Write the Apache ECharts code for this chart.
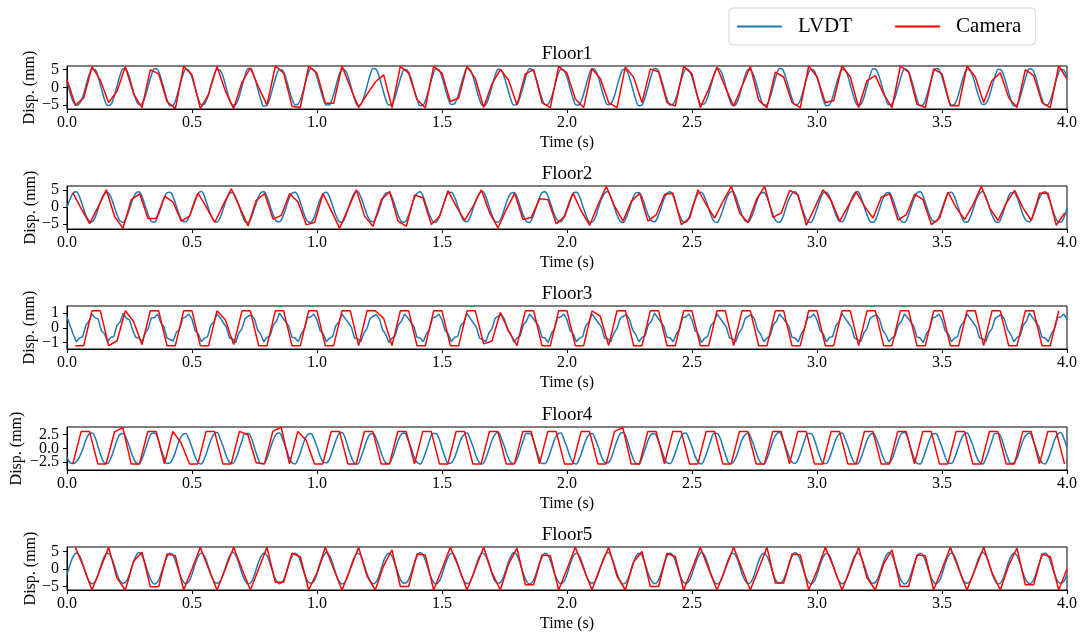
<!DOCTYPE html>
<html><head><meta charset="utf-8">
<script src="https://cdn.jsdelivr.net/npm/echarts@6.0.0/dist/echarts.min.js"></script>
<style>html,body{margin:0;padding:0;background:#fff}#c{width:1084px;height:637px}</style>
</head><body><div id="c"></div>
<script>
const floorNames = ['Floor1','Floor2','Floor3','Floor4','Floor5'];
const xTickLabels = ['0.0','0.5','1.0','1.5','2.0','2.5','3.0','3.5','4.0'];
const lvdtDt = 0.0125;      // LVDT sample spacing (s)
const camFps = 30;          // camera frame rate
const camStart = [0, 0.024, 0.0333, 0.0233, 0.0333];
const yTicks = [[-5,0,5],[-5,0,5],[-1,0,1],[-2.5,0,2.5],[-5,0,5]];
const yDec = [0,0,0,1,0];

const lvdt1 = [
1.8,-1.6,-4.1,-5.1,-4.6,-2.8,0.3,3.3,5.1,5.0,
2.9,-0.3,-3.4,-5.1,-4.9,-2.8,0.3,3.4,5.2,4.9,
2.8,-0.4,-3.3,-4.8,-4.6,-2.7,0.4,3.4,5.3,5.0,
2.7,-0.3,-3.4,-5.2,-5.0,-2.9,0.2,3.2,5.1,4.7,
2.8,-0.2,-3.2,-4.9,-4.7,-2.8,0.3,3.3,5.0,4.8,
2.9,-0.3,-3.3,-5.0,-4.8,-2.9,0.3,3.4,5.3,5.1,
2.8,-0.3,-3.4,-5.3,-5.0,-2.8,0.3,3.3,5.0,4.8,
2.7,-0.4,-3.3,-4.9,-4.7,-2.7,0.4,3.4,5.2,4.9,
2.8,-0.3,-3.2,-5.0,-4.9,-2.9,0.2,3.3,5.1,4.8,
2.9,-0.2,-3.3,-5.1,-4.8,-2.8,0.3,3.5,5.3,5.0,
2.7,-0.4,-3.4,-5.0,-4.7,-2.7,0.3,3.3,5.0,4.7,
2.8,-0.3,-3.3,-5.2,-5.0,-2.9,0.2,3.2,5.1,4.9,
2.9,-0.3,-3.2,-4.8,-4.6,-2.8,0.4,3.4,5.3,5.0,
2.8,-0.4,-3.4,-5.1,-4.9,-2.8,0.3,3.3,5.1,4.8,
2.7,-0.3,-3.3,-5.0,-4.8,-2.7,0.3,3.4,5.2,4.9,
2.8,-0.2,-3.2,-4.9,-4.7,-2.9,0.2,3.3,5.0,4.8,
2.8,-0.3,-3.3,-5.0,-4.8,-2.8,0.3,3.3,5.2,4.9,
2.9,-0.2,-3.2,-4.9,-4.7,-2.9,0.2,3.2,5.0,4.8,
2.7,-0.4,-3.4,-5.2,-5.0,-2.8,0.3,3.4,5.3,5.0,
2.8,-0.3,-3.3,-5.0,-4.7,-2.7,0.4,3.3,5.1,4.8,
2.9,-0.3,-3.2,-4.8,-4.6,-2.8,0.3,3.4,5.2,4.9,
2.8,-0.4,-3.4,-5.1,-4.9,-2.9,0.2,3.3,5.0,4.7,
2.7,-0.3,-3.3,-5.0,-4.8,-2.8,0.3,3.4,5.3,5.0,
2.8,-0.2,-3.2,-4.9,-4.7,-2.7,0.4,3.3,5.1,4.8,
2.9,-0.3,-3.4,-5.2,-5.0,-2.8,0.3,3.2,5.0,4.8,
2.8,-0.4,-3.3,-5.0,-4.8,-2.9,0.2,3.4,5.2,4.9,
2.7,-0.3,-3.2,-4.9,-4.7,-2.8,0.3,3.3,5.1,4.8,
2.8,-0.3,-3.4,-5.1,-4.9,-2.7,0.4,3.4,5.3,5.0,
2.9,-0.2,-3.3,-5.0,-4.8,-2.8,0.3,3.3,5.0,4.7,
2.8,-0.4,-3.2,-4.8,-4.6,-2.9,0.2,3.2,5.1,4.9,
2.7,-0.3,-3.4,-5.2,-5.0,-2.8,0.3,3.4,5.2,4.9,
2.8,-0.3,-3.3,-5.0,-4.8,-2.8,0.3,3.3,5.1,4.8,
3.0];

const lvdt2 = [
0.0,2.4,4.2,4.5,3.0,0.4,-2.3,-4.0,-4.3,-3.0,
-0.4,2.3,4.0,4.3,3.0,0.5,-2.2,-4.1,-4.5,-3.1,
-0.5,2.2,4.1,4.5,3.1,0.4,-2.3,-4.2,-4.4,-2.9,
-0.3,2.4,4.2,4.4,2.9,0.3,-2.4,-4.1,-4.3,-3.0,
-0.4,2.3,4.1,4.6,3.1,0.4,-2.3,-4.0,-4.4,-3.1,
-0.5,2.2,4.0,4.3,2.9,0.5,-2.2,-4.2,-4.5,-3.0,
-0.3,2.3,4.2,4.5,3.0,0.3,-2.3,-4.1,-4.3,-2.9,
-0.4,2.4,4.1,4.4,3.1,0.4,-2.4,-4.2,-4.4,-3.1,
-0.5,2.3,4.0,4.4,3.0,0.4,-2.3,-4.1,-4.5,-3.0,
-0.3,2.2,4.2,4.6,3.0,0.5,-2.2,-4.0,-4.3,-2.9,
-0.4,2.4,4.1,4.3,2.9,0.3,-2.4,-4.2,-4.4,-3.1,
-0.4,2.3,4.0,4.5,3.1,0.4,-2.3,-4.1,-4.5,-3.0,
-0.5,2.2,4.2,4.4,3.0,0.5,-2.2,-4.0,-4.3,-2.9,
-0.3,2.3,4.1,4.6,3.1,0.4,-2.3,-4.2,-4.4,-3.1,
-0.4,2.4,4.0,4.3,2.9,0.3,-2.4,-4.1,-4.5,-3.0,
-0.5,2.3,4.2,4.5,3.0,0.4,-2.3,-4.0,-4.3,-2.9,
-0.3,2.2,4.1,4.4,3.1,0.5,-2.2,-4.2,-4.4,-3.1,
-0.4,2.3,4.0,4.6,3.0,0.4,-2.3,-4.1,-4.5,-3.0,
-0.4,2.4,4.2,4.3,2.9,0.3,-2.4,-4.0,-4.3,-2.9,
-0.5,2.3,4.1,4.5,3.1,0.4,-2.3,-4.2,-4.4,-3.1,
-0.3,2.2,4.0,4.4,3.0,0.5,-2.2,-4.1,-4.5,-3.0,
-0.4,2.3,4.2,4.6,3.1,0.4,-2.3,-4.0,-4.3,-2.9,
-0.5,2.4,4.1,4.3,2.9,0.3,-2.4,-4.2,-4.4,-3.1,
-0.3,2.3,4.0,4.5,3.0,0.4,-2.3,-4.1,-4.5,-3.0,
-0.4,2.2,4.2,4.4,3.1,0.5,-2.2,-4.0,-4.3,-2.9,
-0.4,2.3,4.1,4.6,3.0,0.4,-2.3,-4.2,-4.4,-3.1,
-0.5,2.4,4.0,4.3,2.9,0.3,-2.4,-4.1,-4.5,-3.0,
-0.3,2.3,4.2,4.5,3.1,0.4,-2.3,-4.0,-4.3,-2.9,
-0.4,2.2,4.1,4.4,3.0,0.5,-2.2,-4.2,-4.4,-3.1,
-0.5,2.3,4.0,4.6,3.1,0.4,-2.3,-4.1,-4.5,-3.0,
-0.3,2.4,4.2,4.3,2.9,0.3,-2.4,-4.0,-4.3,-2.9,
-0.4,2.3,4.1,4.5,3.0,0.4,-2.3,-4.2,-4.4,-3.1,
-0.3];

const lvdt3 = [
0.75,0.15,-0.45,-0.95,-0.7,-0.6,0.15,0.45,0.95,0.7,
0.6,-0.2,-0.4,-0.95,-0.65,-0.6,0.2,0.4,1.0,0.65,
0.55,-0.15,-0.65,-0.7,-0.95,-0.35,-0.05,0.7,0.7,0.95,
0.35,0.1,-0.7,-0.8,-0.9,-0.3,-0.1,0.65,0.75,0.95,
0.6,-0.2,-0.4,-0.95,-0.7,-0.6,0.2,0.4,0.95,0.7,
0.35,0.05,-0.7,-0.75,-1.0,-0.35,-0.05,0.65,0.8,0.9,
0.6,-0.15,-0.45,-0.95,-0.65,-0.55,0.2,0.45,1.0,0.7,
0.4,0.1,-0.65,-0.7,-0.95,-0.4,-0.05,0.7,0.75,0.95,
0.55,-0.2,-0.4,-0.95,-0.7,-0.6,0.15,0.4,0.95,0.65,
0.35,0.05,-0.7,-0.75,-0.95,-0.35,-0.05,0.65,0.8,0.9,
0.6,-0.15,-0.45,-1.0,-0.7,-0.55,0.2,0.45,0.95,0.7,
0.4,0.1,-0.65,-0.7,-0.95,-0.4,-0.1,0.7,0.75,0.95,
0.55,-0.2,-0.4,-0.95,-0.65,-0.6,0.15,0.4,1.0,0.65,
0.35,0.05,-0.7,-0.8,-0.95,-0.35,-0.05,0.65,0.8,0.9,
0.6,-0.15,-0.45,-0.95,-0.7,-0.55,0.2,0.45,0.95,0.7,
0.4,0.1,-0.65,-0.7,-1.0,-0.4,-0.05,0.7,0.75,0.95,
0.55,-0.2,-0.4,-0.95,-0.7,-0.6,0.15,0.4,0.95,0.65,
0.35,0.05,-0.7,-0.75,-0.95,-0.35,-0.05,0.65,0.8,0.9,
0.6,-0.15,-0.45,-0.95,-0.65,-0.55,0.2,0.45,1.0,0.7,
0.4,0.1,-0.65,-0.7,-0.95,-0.4,-0.1,0.7,0.75,0.95,
0.55,-0.2,-0.4,-1.0,-0.7,-0.6,0.15,0.4,0.95,0.65,
0.35,0.05,-0.7,-0.75,-0.95,-0.35,-0.05,0.65,0.8,0.9,
0.6,-0.15,-0.45,-0.95,-0.7,-0.55,0.2,0.45,0.95,0.7,
0.4,0.1,-0.65,-0.7,-0.95,-0.4,-0.05,0.7,0.75,0.95,
0.55,-0.2,-0.4,-0.95,-0.65,-0.6,0.15,0.4,1.0,0.65,
0.35,0.05,-0.7,-0.8,-0.95,-0.35,-0.05,0.65,0.8,0.9,
0.6,-0.15,-0.45,-0.95,-0.7,-0.55,0.2,0.45,0.95,0.7,
0.4,0.1,-0.65,-0.7,-1.0,-0.4,-0.1,0.7,0.75,0.95,
0.55,-0.2,-0.4,-0.95,-0.7,-0.6,0.15,0.4,0.95,0.65,
0.35,0.05,-0.7,-0.75,-0.95,-0.35,-0.05,0.65,0.8,0.9,
0.6,-0.15,-0.45,-0.95,-0.65,-0.55,0.2,0.45,1.0,0.7,
0.4,0.1,-0.65,-0.7,-0.95,-0.4,-0.05,0.7,0.75,0.95,
0.6];

const lvdt4 = [
-1.5,-2.6,-2.7,-2.4,-1.5,-0.2,1.5,2.6,2.8,2.0,
0.2,-1.5,-2.6,-2.7,-1.8,-0.2,1.5,2.6,2.7,1.8,
0.3,-1.4,-2.5,-2.8,-1.9,-0.3,1.4,2.7,2.8,1.9,
0.1,-1.6,-2.7,-2.6,-1.7,-0.1,1.6,2.5,2.7,1.7,
0.2,-1.5,-2.6,-2.8,-1.8,-0.2,1.5,2.6,2.9,1.8,
0.3,-1.4,-2.5,-2.7,-1.9,-0.3,1.4,2.7,2.7,1.9,
0.1,-1.6,-2.7,-2.7,-1.7,-0.1,1.6,2.6,2.8,1.7,
0.2,-1.5,-2.6,-2.8,-1.8,-0.2,1.5,2.5,2.7,1.8,
0.3,-1.4,-2.5,-2.6,-1.9,-0.3,1.4,2.7,2.9,1.9,
0.1,-1.6,-2.7,-2.8,-1.7,-0.1,1.6,2.6,2.7,1.7,
0.2,-1.5,-2.6,-2.7,-1.8,-0.2,1.5,2.6,2.8,1.8,
0.3,-1.4,-2.5,-2.8,-1.9,-0.3,1.4,2.7,2.7,1.9,
0.1,-1.6,-2.7,-2.6,-1.7,-0.1,1.6,2.5,2.8,1.7,
0.2,-1.5,-2.6,-2.8,-1.8,-0.2,1.5,2.6,2.9,1.8,
0.3,-1.4,-2.5,-2.7,-1.9,-0.3,1.4,2.7,2.7,1.9,
0.1,-1.6,-2.7,-2.7,-1.7,-0.1,1.6,2.6,2.8,1.7,
0.2,-1.5,-2.6,-2.8,-1.8,-0.2,1.5,2.5,2.7,1.8,
0.3,-1.4,-2.5,-2.6,-1.9,-0.3,1.4,2.7,2.9,1.9,
0.1,-1.6,-2.7,-2.8,-1.7,-0.1,1.6,2.6,2.7,1.7,
0.2,-1.5,-2.6,-2.7,-1.8,-0.2,1.5,2.6,2.8,1.8,
0.3,-1.4,-2.5,-2.8,-1.9,-0.3,1.4,2.7,2.7,1.9,
0.1,-1.6,-2.7,-2.6,-1.7,-0.1,1.6,2.5,2.8,1.7,
0.2,-1.5,-2.6,-2.8,-1.8,-0.2,1.5,2.6,2.9,1.8,
0.3,-1.4,-2.5,-2.7,-1.9,-0.3,1.4,2.7,2.7,1.9,
0.1,-1.6,-2.7,-2.7,-1.7,-0.1,1.6,2.6,2.8,1.7,
0.2,-1.5,-2.6,-2.8,-1.8,-0.2,1.5,2.5,2.7,1.8,
0.3,-1.4,-2.5,-2.6,-1.9,-0.3,1.4,2.7,2.9,1.9,
0.1,-1.6,-2.7,-2.8,-1.7,-0.1,1.6,2.6,2.7,1.7,
0.2,-1.5,-2.6,-2.7,-1.8,-0.2,1.5,2.6,2.8,1.8,
0.3,-1.4,-2.5,-2.8,-1.9,-0.3,1.4,2.7,2.7,1.9,
0.1,-1.6,-2.7,-2.6,-1.7,-0.1,1.6,2.5,2.8,1.7,
0.2,-1.5,-2.6,-2.8,-1.8,-0.2,1.5,2.6,2.9,1.8,
0.2];

const lvdt5 = [
-1.6,1.3,3.6,4.6,3.8,1.5,-1.3,-3.4,-4.2,-3.6,
-1.5,1.4,3.7,4.5,3.7,1.4,-1.4,-3.5,-4.1,-3.5,
-1.4,1.3,3.6,4.7,3.9,1.6,-1.2,-3.4,-4.3,-3.7,
-1.6,1.2,3.5,4.5,3.8,1.5,-1.3,-3.3,-4.2,-3.6,
-1.5,1.4,3.7,4.6,3.7,1.4,-1.4,-3.5,-4.1,-3.5,
-1.4,1.3,3.6,4.7,3.9,1.6,-1.2,-3.4,-4.3,-3.7,
-1.6,1.2,3.5,4.5,3.8,1.5,-1.3,-3.3,-4.2,-3.6,
-1.5,1.4,3.7,4.6,3.7,1.4,-1.4,-3.5,-4.1,-3.5,
-1.4,1.3,3.6,4.7,3.9,1.6,-1.2,-3.4,-4.3,-3.7,
-1.6,1.2,3.5,4.5,3.8,1.5,-1.3,-3.3,-4.2,-3.6,
-1.5,1.4,3.7,4.6,3.7,1.4,-1.4,-3.5,-4.1,-3.5,
-1.4,1.3,3.6,4.7,3.9,1.6,-1.2,-3.4,-4.3,-3.7,
-1.6,1.2,3.5,4.5,3.8,1.5,-1.3,-3.3,-4.2,-3.6,
-1.5,1.4,3.7,4.6,3.7,1.4,-1.4,-3.5,-4.1,-3.5,
-1.4,1.3,3.6,4.7,3.9,1.6,-1.2,-3.4,-4.3,-3.7,
-1.6,1.2,3.5,4.5,3.8,1.5,-1.3,-3.3,-4.2,-3.6,
-1.5,1.4,3.7,4.6,3.7,1.4,-1.4,-3.5,-4.1,-3.5,
-1.4,1.3,3.6,4.7,3.9,1.6,-1.2,-3.4,-4.3,-3.7,
-1.6,1.2,3.5,4.5,3.8,1.5,-1.3,-3.3,-4.2,-3.6,
-1.5,1.4,3.7,4.6,3.7,1.4,-1.4,-3.5,-4.1,-3.5,
-1.4,1.3,3.6,4.7,3.9,1.6,-1.2,-3.4,-4.3,-3.7,
-1.6,1.2,3.5,4.5,3.8,1.5,-1.3,-3.3,-4.2,-3.6,
-1.5,1.4,3.7,4.6,3.7,1.4,-1.4,-3.5,-4.1,-3.5,
-1.4,1.3,3.6,4.7,3.9,1.6,-1.2,-3.4,-4.3,-3.7,
-1.6,1.2,3.5,4.5,3.8,1.5,-1.3,-3.3,-4.2,-3.6,
-1.5,1.4,3.7,4.6,3.7,1.4,-1.4,-3.5,-4.1,-3.5,
-1.4,1.3,3.6,4.7,3.9,1.6,-1.2,-3.4,-4.3,-3.7,
-1.6,1.2,3.5,4.5,3.8,1.5,-1.3,-3.3,-4.2,-3.6,
-1.5,1.4,3.7,4.6,3.7,1.4,-1.4,-3.5,-4.1,-3.5,
-1.4,1.3,3.6,4.7,3.9,1.6,-1.2,-3.4,-4.3,-3.7,
-1.6,1.2,3.5,4.5,3.8,1.5,-1.3,-3.3,-4.2,-3.6,
-1.5,1.4,3.7,4.6,3.7,1.4,-1.4,-3.5,-4.1,-3.5,
-1.5];

const cam1 = [
2.2,-5.0,-3.0,5.8,2.0,-4.3,-1.1,5.8,-1.9,-5.7,5.0,3.8,-4.0,-6.0,5.9,3.5,-6.0,-1.9,5.9,-1.0,
-6.0,1.4,5.5,0.0,-5.0,6.0,4.0,-5.3,-5.7,6.0,4.0,-4.5,-4.5,6.0,0.0,
-5.7,-2.0,1.5,3.5,-5.7,5.9,4.0,-3.5,-5.7,5.9,4.0,-4.0,-3.0,5.9,2.5,-5.7,1.0,5.0,2.0,-5.0,
3.8,5.0,-4.3,-5.7,5.9,4.0,-3.3,-5.7,5.2,2.5,-4.3,-5.7,5.7,2.8,-4.3,5.2,4.3,-4.3,-5.3,5.9,
3.8,-5.7,-0.5,5.7,
0.0,-5.3,0.3,5.9,-3.6,-5.7,4.3,2.9,-4.3,-5.7,6.0,2.9,-4.3,-3.8,6.0,2.9,-5.7,1.9,3.3,-1.9,
-5.7,6.0,4.3,-4.8,-5.7,5.2,3.8,-5.2,-5.2,6.0,2.9,-4.3,1.9,4.1,-2.9,-5.7,5.0,3.3,-4.3,-5.7,
6.0,2.4];

const cam2 = [
4.2,-0.5,-4.8,0.0,5.1,-2.8,-6.2,2.2,3.9,-3.3,-3.3,3.2,1.5,-4.1,-2.6,4.1,0.0,-4.5,0.5,5.4,
0.0,-5.5,2.0,4.0,-3.5,-2.4,4.0,1.5,-5.2,-4.4,4.0,-1.0,-6.2,-0.5,5.1,
-2.7,-5.6,2.2,4.6,-4.1,-5.6,3.6,2.7,-5.1,-2.7,4.8,0.2,-3.9,0.2,5.1,-1.7,-6.1,-0.7,4.1,-3.6,
-3.0,2.5,2.2,-4.9,-2.7,4.1,-1.2,-5.3,0.7,6.1,0.2,-4.1,1.7,4.1,-4.1,-2.2,3.8,4.1,-5.1,-3.2,
5.1,0.7,
-3.2,1.7,6.1,-1.7,-4.6,2.2,6.1,-3.0,-1.7,4.9,3.6,-5.3,-0.2,5.1,1.9,-4.1,0.2,4.4,0.2,-3.2,
2.9,3.9,-3.8,-2.2,3.8,2.2,-5.1,-3.2,4.4,-0.2,-3.6,0.7,6.1,-0.2,-3.9,1.2,4.9,-0.2,-3.9,4.1,
4.1,-5.3,-1.7];

const cam3 = [
-1.22,-1.22,1.17,1.17,-1.22,-0.9,1.17,0.42,-1.15,1.17,1.17,-1.22,-1.22,1.17,1.17,-1.22,-1.22,1.17,0.55,-1.15,
1.17,1.17,-1.22,-1.22,1.17,1.17,-1.22,-1.22,1.17,1.17,-1.22,-1.22,1.17,1.17,-1.22,
1.17,1.17,0.65,-1.22,1.17,1.17,-1.22,-1.22,1.17,1.17,-1.22,-1.22,1.17,1.17,-1.1,-0.9,1.05,-0.2,-1.22,
1.17,1.17,-1.22,-1.22,1.17,1.17,-1.22,-1.22,1.17,0.8,-1.22,1.17,1.17,-1.22,-1.22,1.17,1.17,-1.22,-1.22,
1.17,1.17,-1.22,-1.22,
1.17,1.17,-1.22,1.17,1.17,-1.22,-1.22,1.17,1.17,-1.22,-1.22,1.17,1.17,-1.22,-1.22,1.17,1.17,-1.22,
1.17,1.17,-1.22,-1.22,1.17,1.17,-1.22,-1.22,1.17,1.17,-1.22,-1.22,1.17,1.17,-1.22,1.17,1.17,-1.22,-1.22,
1.17,1.17,-1.22,-1.22,1.17];

const cam4 = [
-2.8,3.1,3.1,-2.8,-2.8,3.0,3.8,-2.8,-2.8,3.1,3.1,-2.8,3.1,1.0,-2.8,
-2.8,3.1,3.1,-2.8,-2.8,3.1,2.5,-2.6,-2.8,3.1,3.9,-2.8,3.1,1.5,-2.8,
-2.8,3.1,3.1,-2.8,-2.8,3.1,3.1,-2.8,-2.8,3.1,3.1,-2.8,3.1,3.1,-2.8,
-2.8,3.1,3.1,-2.8,-2.8,3.1,3.1,-2.8,-2.8,3.1,3.1,-2.8,3.1,3.1,-2.8,
-2.8,3.1,3.1,-2.8,-2.8,3.1,3.8,-2.8,-2.8,3.1,3.1,-2.8,3.1,3.1,-2.8,
-2.8,3.1,3.1,-2.8,-2.8,3.1,3.1,-2.8,-2.8,3.1,3.1,-2.8,3.1,3.1,-2.8,
-2.8,3.1,3.1,-2.8,-2.8,3.1,3.1,-2.8,-2.8,3.1,3.1,-2.8,3.1,3.1,-2.8,
-2.8,3.1,3.1,-2.8,-2.8,3.1,3.1,-2.8,-2.8,3.1,3.1,-2.8,3.1,3.1,-2.8];

const cam5 = [
6.2,0.5,-6.0,0.0,6.2,-2.6,-6.0,2.2,4.8,-5.1,-5.1,4.3,3.8,-6.0,0.0,
6.2,0.0,-6.0,0.0,6.2,0.0,-6.0,0.0,6.2,-3.8,-3.8,4.5,3.5,-6.0,-1.0,
6.2,0.0,-6.0,0.0,6.2,-2.0,-6.0,1.0,5.5,-5.0,-5.0,4.3,4.0,-6.0,0.0,
6.2,0.5,-6.0,0.0,6.2,-1.0,-6.0,1.5,6.0,-4.5,-4.5,4.0,3.8,-6.0,0.0,
6.2,0.0,-6.0,0.5,6.2,-2.0,-6.0,2.0,5.0,-5.0,-5.0,4.5,3.5,-6.0,0.0,
6.2,0.0,-6.0,0.0,6.2,0.0,-6.0,0.0,6.2,-4.0,-4.0,4.3,4.0,-6.0,-0.5,
6.2,0.5,-6.0,0.0,6.2,-2.5,-6.0,1.5,5.5,-5.0,-5.0,4.0,3.8,-6.0,0.0,
6.2,0.0,-6.0,0.0,6.2,-1.0,-6.0,1.0,6.0,-4.5,-4.5,4.3,3.5,-6.0,0.0];

const lvdtAll = [lvdt1, lvdt2, lvdt3, lvdt4, lvdt5];
const camAll = [cam1, cam2, cam3, cam4, cam5];

// layout / style
const gridTop = [66, 186, 306, 427, 547];
const gridH = 43;
const gridLeft = 67;
const yRange = [[-6.1, 6.0], [-6.4, 6.2], [-1.45, 1.5], [-3.9, 3.9], [-6.0, 6.3]];
const yNameGap = [29, 28.5, 29.5, 42, 28];
const FONT = 'Liberation Serif';

const fmtY = d => v => (v < 0 ? '\u2212' : '') + Math.abs(v).toFixed(d);

const grids = [], xAxes = [], yAxes = [], series = [], graphics = [];
for (let f = 0; f < 5; f++) {
  grids.push({left: gridLeft, width: 1000, top: gridTop[f], height: gridH, show: true,
    borderColor: '#000', borderWidth: 1, backgroundColor: 'transparent', containLabel: false});
  xAxes.push({gridIndex: f, type: 'value', min: 0, max: 4, interval: 0.5,
    axisLine: {show: true, onZero: false, lineStyle: {color: '#000', width: 1}},
    axisTick: {show: true, inside: false, length: 4, lineStyle: {color: '#000'}},
    axisLabel: {color: '#000', fontFamily: FONT, fontSize: 16, margin: 6, hideOverlap: false,
      showMinLabel: true, showMaxLabel: true,
      formatter: v => xTickLabels[Math.round(v * 2)] || v.toFixed(1)},
    splitLine: {show: false},
    name: 'Time (s)', nameLocation: 'middle', nameGap: 26, nameMoveOverlap: false,
    nameTextStyle: {color: '#000', fontFamily: FONT, fontSize: 16}});
  yAxes.push({gridIndex: f, type: 'value', min: yRange[f][0], max: yRange[f][1],
    axisLine: {show: true, onZero: false, lineStyle: {color: '#000', width: 1}},
    axisTick: {show: true, inside: false, length: 4, customValues: yTicks[f], lineStyle: {color: '#000'}},
    axisLabel: {show: false},
    splitLine: {show: false},
    name: 'Disp. (mm)', nameLocation: 'middle', nameRotate: 90, nameGap: yNameGap[f], nameMoveOverlap: false,
    nameTextStyle: {color: '#000', fontFamily: FONT, fontSize: 16}});
  series.push({name: 'LVDT', type: 'line', xAxisIndex: f, yAxisIndex: f,
    data: lvdtAll[f].map((v, i) => [i * lvdtDt, v]),
    showSymbol: false, smooth: f === 2 ? false : 0.35, clip: true,
    itemStyle: {color: '#1f77b4'}, lineStyle: {color: '#1f77b4', width: 1.5}, z: 2});
  series.push({name: 'Camera', type: 'line', xAxisIndex: f, yAxisIndex: f,
    data: camAll[f].map((v, j) => [camStart[f] + j / camFps, v]),
    showSymbol: false, clip: true,
    itemStyle: {color: '#ff0000'}, lineStyle: {color: '#ff0000', width: 1.5}, z: 3});
  graphics.push({type: 'text', x: 567, y: gridTop[f] - 12,
    style: {text: floorNames[f], font: '19px "Liberation Serif"', fill: '#000',
      textAlign: 'center', textVerticalAlign: 'middle'}});
}

const chart = echarts.init(document.getElementById('c'), null, {renderer: 'canvas'});
chart.setOption({
  animation: false,
  backgroundColor: '#fff',
  grid: grids, xAxis: xAxes, yAxis: yAxes, series: series,
  graphic: graphics,
  legend: {
    data: ['LVDT', 'Camera'], left: 729, top: 8, orient: 'horizontal',
    icon: 'rect', itemWidth: 45, itemHeight: 2, itemGap: 43,
    padding: [8, 14, 8, 8], borderColor: '#d6d6d6', borderWidth: 1, borderRadius: 4,
    backgroundColor: '#fff',
    textStyle: {fontFamily: FONT, fontSize: 21, color: '#000', padding: [0, 0, 0, 11]}
  }
});

// y tick labels placed through each axis' own scale
const labelEls = [];
for (let f = 0; f < 5; f++) {
  yTicks[f].forEach(v => {
    const py = chart.convertToPixel({yAxisIndex: f}, v);
    labelEls.push({type: 'text', x: gridLeft - 8, y: py,
      style: {text: fmtY(yDec[f])(v), font: '16px "Liberation Serif"', fill: '#000',
        textAlign: 'right', textVerticalAlign: 'middle'}});
  });
}
chart.setOption({graphic: graphics.concat(labelEls)});
</script>
</body></html>
